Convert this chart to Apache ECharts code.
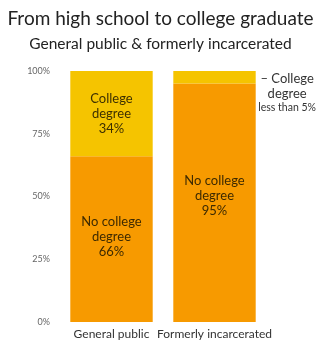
<!DOCTYPE html>
<html>
<head>
<meta charset="utf-8">
<script src="https://cdn.jsdelivr.net/npm/echarts@6/dist/echarts.min.js"></script>
<style>
  html, body { margin: 0; padding: 0; background: #fff; }
  #chart { width: 321px; height: 341px; }
</style>
</head>
<body>
<div id="chart"></div>
<script>
var categories = ["General public", "Formerly incarcerated"];
var noCollege = [66, 95];
var college = [34, 5];
var yTicks = ["0%", "25%", "50%", "75%", "100%"];

var font = "Lato";
var chart = echarts.init(document.getElementById("chart"));

chart.setOption({
  animation: false,
  textStyle: { fontFamily: font },
  title: [
    {
      text: "From high school to college graduate",
      left: "center",
      top: 4,
      textStyle: { fontSize: 19, fontWeight: "normal", color: "#222", fontFamily: font }
    },
    {
      text: "General public & formerly incarcerated",
      left: "center",
      top: 31,
      textStyle: { fontSize: 15.5, fontWeight: "normal", color: "#222", fontFamily: font }
    }
  ],
  grid: { left: 60, right: 55, top: 71, bottom: 19 },
  xAxis: {
    type: "category",
    data: categories,
    axisLine: { show: false },
    axisTick: { show: false },
    axisLabel: { color: "#333", fontSize: 12, margin: 6, interval: 0 }
  },
  yAxis: {
    type: "value",
    min: 0,
    max: 100,
    interval: 25,
    splitLine: { show: false },
    axisLine: { show: false },
    axisTick: { show: false },
    axisLabel: {
      color: "#666",
      fontSize: 9,
      margin: 10,
      formatter: function (v) { return yTicks[v / 25]; }
    }
  },
  series: [
    {
      name: "No college degree",
      type: "bar",
      stack: "all",
      barWidth: "80%",
      data: noCollege,
      itemStyle: { color: "#F79A00" },
      label: {
        show: true,
        position: "inside",
        color: "#3d2a00",
        fontSize: 13,
        lineHeight: 15,
        formatter: function (p) { return "No college\ndegree\n" + p.value + "%"; }
      },
      labelLayout: function (p) {
        return p.dataIndex === 1 ? { dy: -7 } : { dy: -2 };
      }
    },
    {
      name: "College degree",
      type: "bar",
      stack: "all",
      barWidth: "80%",
      data: [
        {
          value: college[0],
          label: {
            show: true,
            position: "inside",
            color: "#3d3000",
            fontSize: 13,
            lineHeight: 15,
            formatter: function (p) { return "College\ndegree\n" + p.value + "%"; }
          }
        },
        {
          value: college[1],
          label: {
            show: true,
            position: [85, 0],
            align: "left",
            verticalAlign: "top",
            color: "#333",
            formatter: "{a|– College}\n{b|degree}\n{c|less than " + college[1] + "%}",
            rich: {
              a: { fontSize: 13, lineHeight: 15, color: "#333", align: "center" },
              b: { fontSize: 13, lineHeight: 15, color: "#333", align: "center" },
              c: { fontSize: 10.5, lineHeight: 13, color: "#333", align: "center" }
            }
          }
        }
      ],
      itemStyle: { color: "#F5C400" }
    }
  ]
});
</script>
</body>
</html>
